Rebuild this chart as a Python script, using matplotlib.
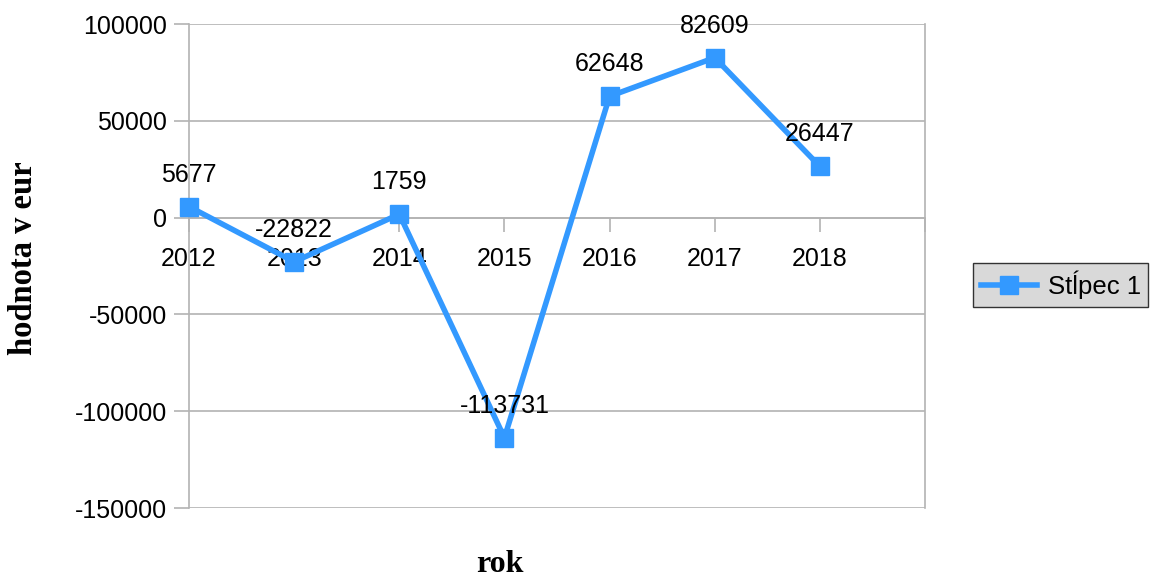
import matplotlib.pyplot as plt
import numpy as np

years = ["2012", "2013", "2014", "2015", "2016", "2017", "2018"]
values = [5677, -22822, 1759, -113731, 62648, 82609, 26447]
series_name = "Stĺpec 1"

LINE_COLOR = "#3399ff"
GRID_COLOR = "#b3b3b3"

plt.rcParams["font.family"] = ["Liberation Sans", "DejaVu Sans"]

fig = plt.figure(figsize=(11.52, 5.78), dpi=100)
ax = fig.add_axes([189 / 1152, 1 - 508 / 578, (925 - 189) / 1152, (508 - 24) / 578])

x = np.arange(len(years))
ax.plot(x, values, color=LINE_COLOR, lw=4, marker="s", markersize=13,
        label=series_name, zorder=3, clip_on=False)

for xi, v in zip(x, values):
    ax.annotate(str(v), (xi, v), xytext=(0, 23), textcoords="offset points",
                ha="center", va="center", fontsize=18, color="black", zorder=4)

ax.set_xlim(0, 7)
ax.set_ylim(-150000, 100000)
ax.set_yticks(np.arange(-150000, 100001, 50000))
ax.set_yticklabels([str(t) for t in range(-150000, 100001, 50000)], fontsize=18)
ax.yaxis.grid(True, color=GRID_COLOR, lw=1.2)
ax.set_axisbelow(True)

# category axis through zero
ax.spines["bottom"].set_position(("data", 0))
ax.set_xticks(np.arange(0, 8))
ax.set_xticklabels(years + [""], fontsize=18)
ax.tick_params(axis="x", direction="out", length=10, color=GRID_COLOR, width=1.2, pad=11)
ax.tick_params(axis="y", direction="out", length=11, color=GRID_COLOR, width=1.2, pad=5)

for side in ["left", "right", "bottom"]:
    ax.spines[side].set_color(GRID_COLOR)
    ax.spines[side].set_linewidth(1.2)
ax.spines["top"].set_visible(False)

fig.text(24 / 1152, 1 - 258 / 578, "hodnota v eur", rotation=90, ha="center", va="center",
         fontsize=23.5, fontweight="bold", family=["Liberation Serif", "DejaVu Serif"])
fig.text(500 / 1152, 1 - 565 / 578, "rok", ha="center", va="center",
         fontsize=23, fontweight="bold", family=["Liberation Serif", "DejaVu Serif"])

leg = fig.legend(loc="center left", bbox_to_anchor=(973 / 1152, 1 - 285 / 578),
                 fontsize=18.5, frameon=True, fancybox=False, handlelength=2.2,
                 borderpad=0.3, handletextpad=0.4, borderaxespad=0)
leg.get_frame().set_facecolor("#d9d9d9")
leg.get_frame().set_edgecolor("#333333")
leg.get_frame().set_alpha(1)

fig.savefig("out.png", dpi=100, facecolor="white")
